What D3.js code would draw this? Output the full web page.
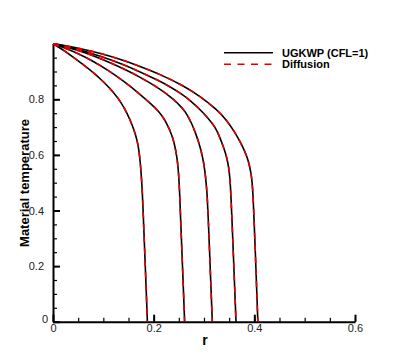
<!DOCTYPE html>
<meta charset="utf-8">
<title>Material temperature</title>
<style>
  body { margin: 0; background: #fff; }
  text { font-family: "Liberation Sans", Arial, Helvetica, sans-serif; }
  .axis path, .axis line { stroke: #000; }
</style>
<body>
<script src="https://cdn.jsdelivr.net/npm/d3@7"></script>
<script>

var width = 407,
  height = 362;

// r positions of each profile (five output times)
const rPoints = [
  [0, 0.02, 0.04, 0.06, 0.08, 0.10, 0.12, 0.135, 0.148, 0.158, 0.164, 0.168, 0.171, 0.174, 0.176, 0.1775, 0.179, 0.1815, 0.184, 0.1865, 0.1875],
  [0, 0.02, 0.05, 0.08, 0.11, 0.14, 0.17, 0.195, 0.21, 0.22, 0.228, 0.236, 0.24, 0.244, 0.247, 0.2495, 0.2515, 0.254, 0.2565, 0.259, 0.2615],
  [0, 0.05, 0.1, 0.14, 0.173, 0.2126, 0.24, 0.259, 0.268, 0.2755, 0.283, 0.289, 0.295, 0.299, 0.302, 0.3045, 0.3065, 0.3085, 0.311, 0.3135, 0.3165],
  [0, 0.05, 0.1, 0.14, 0.173, 0.2126, 0.2324, 0.255, 0.272, 0.299, 0.318, 0.325, 0.332, 0.338, 0.343, 0.3465, 0.349, 0.351, 0.3525, 0.3541, 0.3561, 0.3586, 0.3611, 0.3636],
  [0, 0.05, 0.1, 0.14, 0.173, 0.2126, 0.259, 0.292, 0.325, 0.345, 0.36, 0.37, 0.378, 0.384, 0.388, 0.391, 0.3935, 0.3955, 0.3975, 0.3995, 0.402, 0.4045, 0.407]
];

// UGKWP (CFL=1) material temperature
const tUgkwp = [
  [1, 0.978, 0.952, 0.925, 0.897, 0.864, 0.826, 0.79, 0.748, 0.705, 0.672, 0.645, 0.613, 0.562, 0.51, 0.465, 0.40, 0.285, 0.17, 0.05, 0],
  [1, 0.987, 0.965, 0.937, 0.904, 0.866, 0.823, 0.783, 0.757, 0.732, 0.706, 0.672, 0.648, 0.615, 0.582, 0.535, 0.47, 0.35, 0.235, 0.12, 0],
  [1, 0.977, 0.943, 0.91, 0.88, 0.838, 0.80, 0.765, 0.74, 0.713, 0.68, 0.648, 0.61, 0.575, 0.54, 0.495, 0.45, 0.37, 0.255, 0.14, 0],
  [1, 0.98, 0.952, 0.925, 0.899, 0.865, 0.845, 0.82, 0.797, 0.752, 0.71, 0.69, 0.66, 0.632, 0.605, 0.58, 0.555, 0.525, 0.49, 0.43, 0.345, 0.23, 0.115, 0],
  [1, 0.985, 0.963, 0.94, 0.918, 0.89, 0.849, 0.811, 0.764, 0.725, 0.685, 0.653, 0.625, 0.60, 0.578, 0.556, 0.532, 0.505, 0.455, 0.365, 0.25, 0.125, 0]
];

// diffusion reference, same as UGKWP at this resolution
const tDiffusion = tUgkwp;

const xTicks = [0, 0.2, 0.4, 0.6];
const yTicks = [0, 0.2, 0.4, 0.6, 0.8];
const xMinor = d3.range(0, 0.6001, 0.05);
const yMinor = d3.range(0, 1.0001, 0.05);

const seriesNames = ["UGKWP (CFL=1)", "Diffusion"];

var svg = d3.select("body").append("svg")
    .attr("width", width)
    .attr("height", height);

var x = d3.scaleLinear().domain([0, 0.6]).range([53, 355]);
var y = d3.scaleLinear().domain([0, 1]).range([321.7, 43.7]);

var line = d3.line()
    .x(d => x(d[0]))
    .y(d => y(d[1]))
    .curve(d3.curveBasis);

const fmt = d => d === 0 ? "0" : d3.format(".1f")(d);

// minor ticks
svg.append("g")
    .attr("class", "axis")
    .attr("transform", "translate(0," + y(0) + ")")
    .call(d3.axisBottom(x).tickValues(xMinor).tickSize(-4).tickFormat(""))
    .call(g => g.select(".domain").remove())
    .selectAll("line").attr("stroke-width", 1.2);
svg.append("g")
    .attr("class", "axis")
    .attr("transform", "translate(" + x(0) + ",0)")
    .call(d3.axisLeft(y).tickValues(yMinor).tickSize(-4).tickFormat(""))
    .call(g => g.select(".domain").remove())
    .selectAll("line").attr("stroke-width", 1.2);

// major ticks + labels
var xAxis = svg.append("g")
    .attr("class", "axis")
    .attr("transform", "translate(0," + y(0) + ")")
    .call(d3.axisBottom(x).tickValues(xTicks).tickSize(-7).tickSizeOuter(0).tickPadding(3).tickFormat(fmt));
xAxis.select(".domain").attr("stroke-width", 2);
xAxis.selectAll("line").attr("stroke-width", 2);
xAxis.selectAll("text").attr("font-size", 11).attr("fill", "#222");

var yAxis = svg.append("g")
    .attr("class", "axis")
    .attr("transform", "translate(" + x(0) + ",0)")
    .call(d3.axisLeft(y).tickValues(yTicks).tickSize(-7).tickSizeOuter(0).tickPadding(9).tickFormat(fmt));
yAxis.select(".domain").attr("stroke-width", 2);
yAxis.selectAll("line").attr("stroke-width", 2);
yAxis.selectAll("text").attr("font-size", 11).attr("fill", "#222");
yAxis.selectAll(".tick").filter(d => d === 0).select("text")
    .attr("x", -5).attr("dy", "0.1em");

// axis titles
svg.append("text")
    .attr("x", 205)
    .attr("y", 345)
    .attr("text-anchor", "middle")
    .attr("font-size", 14)
    .attr("font-weight", "bold")
    .text("r");

svg.append("text")
    .attr("transform", "translate(29,183) rotate(-90)")
    .attr("text-anchor", "middle")
    .attr("font-size", 13)
    .attr("font-weight", "bold")
    .text("Material temperature");

// curves: solid UGKWP first, dashed diffusion on top
var plot = svg.append("g");
rPoints.forEach((rs, i) => {
  plot.append("path")
      .datum(rs.map((r, j) => [r, tUgkwp[i][j]]))
      .attr("d", line)
      .attr("fill", "none")
      .attr("stroke", "#000")
      .attr("stroke-width", 1.6);
});
rPoints.forEach((rs, i) => {
  plot.append("path")
      .datum(rs.map((r, j) => [r, tDiffusion[i][j]]))
      .attr("d", line)
      .attr("fill", "none")
      .attr("stroke", "#e00000")
      .attr("stroke-width", 1.6)
      .attr("stroke-dasharray", "6,6");
});

// legend
var legend = svg.append("g");
seriesNames.forEach((name, i) => {
  var ly = 52.7 + i * 11.6;
  legend.append("line")
      .attr("x1", 224).attr("x2", 273)
      .attr("y1", ly).attr("y2", ly)
      .attr("stroke", i === 0 ? "#000" : "#e00000")
      .attr("stroke-width", 1.6)
      .attr("stroke-dasharray", i === 0 ? null : "7,6.5");
  legend.append("text")
      .attr("x", 282)
      .attr("y", ly + 4)
      .attr("font-size", 11)
      .attr("font-weight", "bold")
      .text(name);
});

</script>
